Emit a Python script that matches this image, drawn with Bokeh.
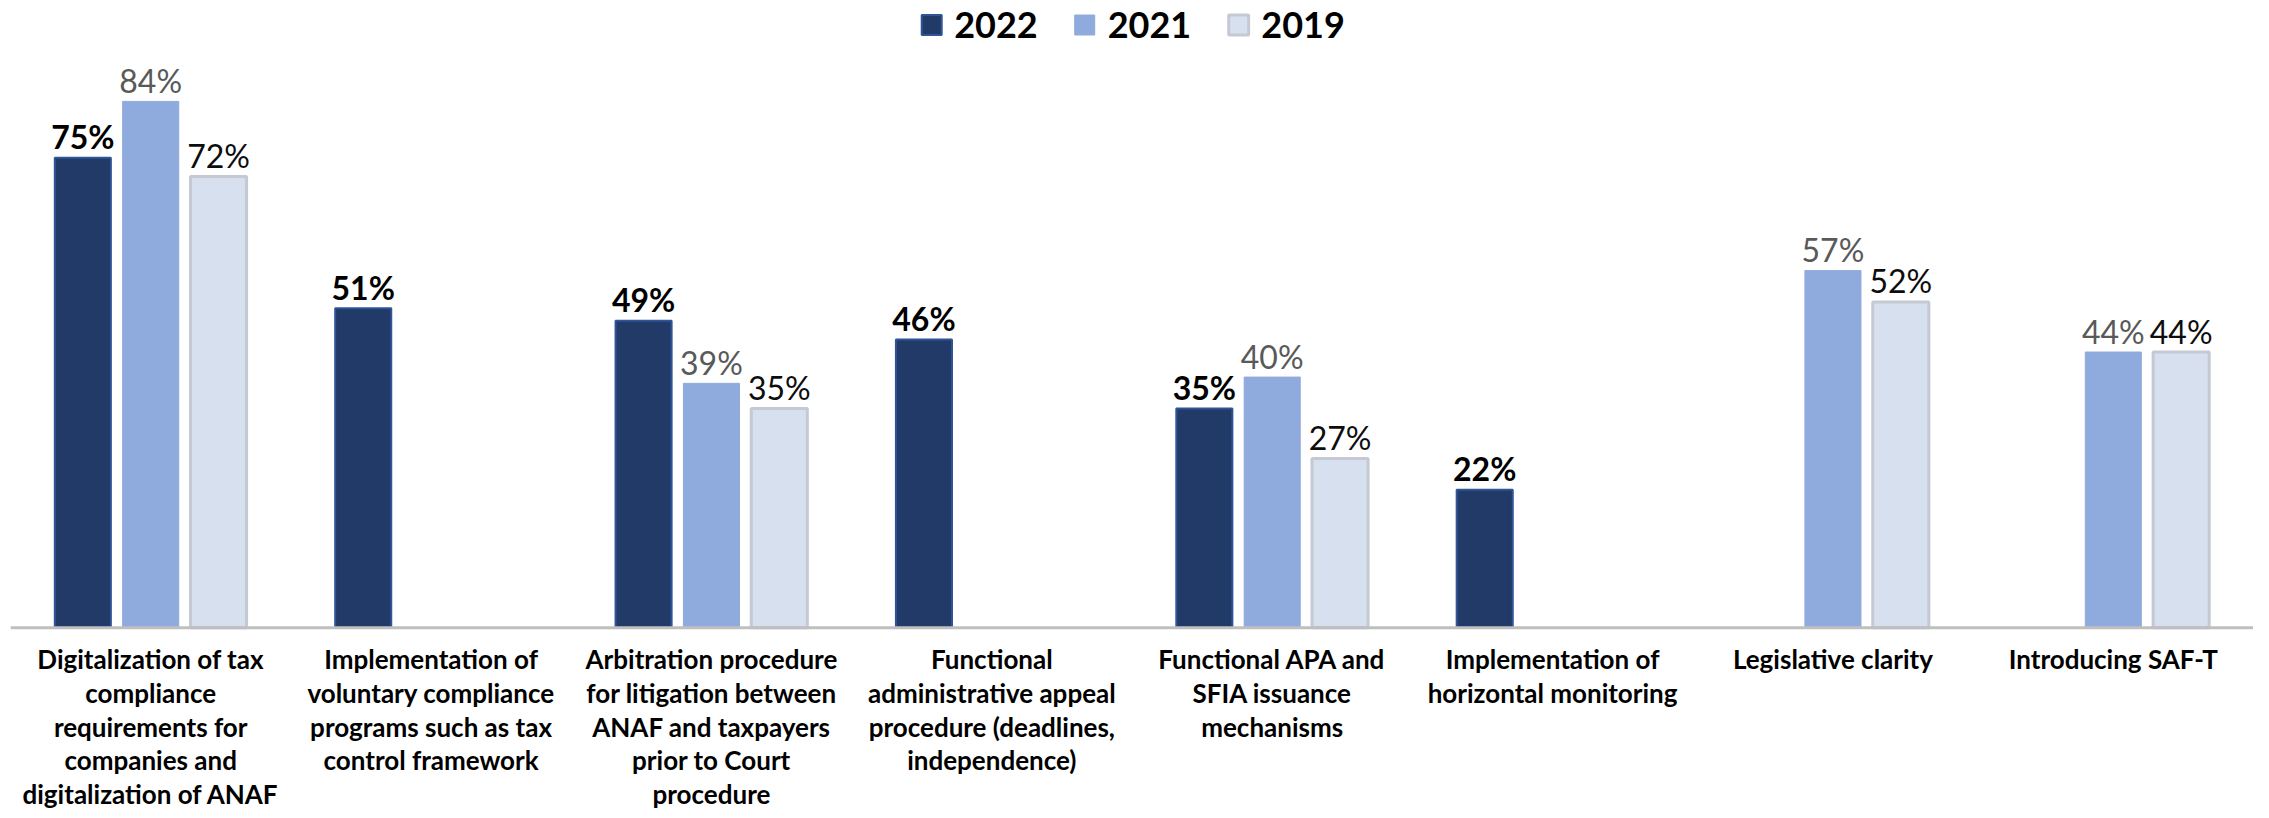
from bokeh.plotting import figure
from bokeh.models import ColumnDataSource, FactorRange, Legend, LegendItem, Span
from bokeh.transform import dodge
from bokeh.core.properties import value
from bokeh.embed import file_html
from bokeh.resources import INLINE

categories = [
    "Digitalization of tax\ncompliance\nrequirements for\ncompanies and\ndigitalization of ANAF",
    "Implementation of\nvoluntary compliance\nprograms such as tax\ncontrol framework",
    "Arbitration procedure\nfor litigation between\nANAF and taxpayers\nprior to Court\nprocedure",
    "Functional\nadministrative appeal\nprocedure (deadlines,\nindependence)",
    "Functional APA and\nSFIA issuance\nmechanisms",
    "Implementation of\nhorizontal monitoring",
    "Legislative clarity",
    "Introducing SAF-T",
]
v2022 = [75, 51, 49, 46, 35, 22, None, None]
v2021 = [84, None, 39, None, 40, None, 57, 44]
v2019 = [72, None, 35, None, 27, None, 52, 44]
series_names = ["2022", "2021", "2019"]

FONT = "Lato"

p = figure(x_range=FactorRange(*categories, range_padding=0), y_range=(-29.17, 100.1),
           width=2253, height=810, output_backend="svg", toolbar_location=None,
           min_border_left=10, min_border_right=0, min_border_top=0, min_border_bottom=0)
p.outline_line_color = None
p.grid.grid_line_color = None
p.xaxis.visible = False
p.yaxis.visible = False
p.background_fill_color = "white"
p.border_fill_color = "white"

def src(vals):
    cats = [c for c, v in zip(categories, vals) if v is not None]
    vs = [v for v in vals if v is not None]
    return ColumnDataSource(dict(cat=cats, val=vs, lab=[f"{v}%" for v in vs]))

styles = [
    (v2022, -0.242, "#213A68", "#2F5597", 2, "#000000", "bold"),
    (v2021, 0.0, "#8FAADC", "#8FAADC", 1, "#595959", "normal"),
    (v2019, 0.242, "#D7E0EF", "#C4C9D3", 3, "#0D0D0D", "normal"),
]
renderers = []
for vals, off, fill, line, lw, tcol, tstyle in styles:
    s = src(vals)
    x = dodge("cat", off, range=p.x_range)
    r = p.vbar(x=x, top="val", width=0.2, source=s, fill_color=fill,
               line_color=line, line_width=lw)
    renderers.append(r)
    p.text(x=x, y="val", text="lab", source=s, text_align="center",
           text_baseline="alphabetic", y_offset=-21, text_color=tcol,
           text_font=value(FONT), text_font_size="32px", text_font_style=tstyle)

# category axis line and labels
p.add_layout(Span(location=0, dimension="width", line_color="#BFBFBF", line_width=3))
cat_src = ColumnDataSource(dict(cat=categories, y=[0] * len(categories)))
p.text(x="cat", y="y", text="cat", source=cat_src, text_align="center",
       text_baseline="top", y_offset=15, text_color="#000000",
       text_font=value(FONT), text_font_size="26px", text_font_style="bold",
       text_line_height=1.06)

legend = Legend(items=[LegendItem(label=n, renderers=[r]) for n, r in zip(series_names, renderers)],
                orientation="horizontal", location="top_center",
                label_text_font=FONT, label_text_font_size="36px", label_text_font_style="bold",
                label_text_color="#000000", glyph_width=25, glyph_height=25, label_standoff=11,
                spacing=34, padding=0, margin=2, border_line_color=None, background_fill_alpha=0)
p.add_layout(legend, "center")

open("out.html", "w").write(file_html(p, INLINE))
